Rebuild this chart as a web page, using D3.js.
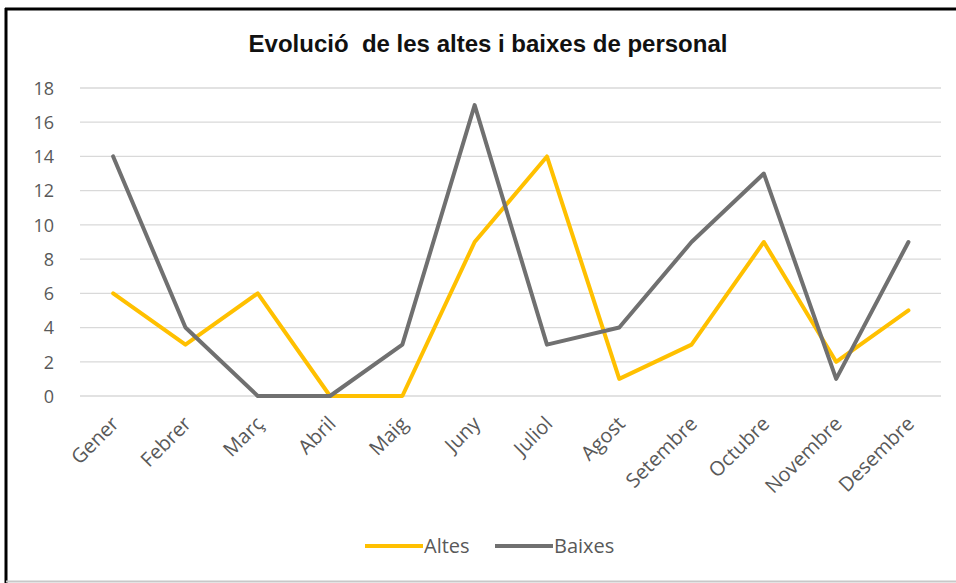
<!DOCTYPE html>
<html><head><meta charset="utf-8">
<script src="https://cdn.jsdelivr.net/npm/d3@7"></script>
<style>body{margin:0;background:#fff}svg{display:block}</style>
</head><body>
<script>
const months = ["Gener","Febrer","Març","Abril","Maig","Juny","Juliol","Agost","Setembre","Octubre","Novembre","Desembre"];
const altes  = [6,3,6,0,0,9,14,1,3,9,2,5];
const baixes = [14,4,0,0,3,17,3,4,9,13,1,9];
const yTicks = [0,2,4,6,8,10,12,14,16,18];
const seriesNames = ["Altes","Baixes"];
const seriesColors = ["#FFC000","#707070"];

const W=956,H=583;
const FONT="'Open Sans','Noto Sans',sans-serif";
const svg=d3.select("body").append("svg").attr("width",W).attr("height",H);
svg.append("rect").attr("width",W).attr("height",H).attr("fill","#fff");
// frame
svg.append("line").attr("x1",5).attr("x2",W).attr("y1",9).attr("y2",9).attr("stroke","#000").attr("stroke-width",3);
svg.append("line").attr("x1",6).attr("x2",6).attr("y1",8).attr("y2",H).attr("stroke","#000").attr("stroke-width",3);
svg.append("line").attr("x1",6).attr("x2",W).attr("y1",581.5).attr("y2",581.5).attr("stroke","#c8c8c8").attr("stroke-width",2);

const x=d3.scaleBand().domain(months).range([77,944.6]);
const y=d3.scaleLinear().domain([0,18]).range([396,88]);
const cx=m=>x(m)+x.bandwidth()/2;

// title
svg.append("text").attr("x",488).attr("y",52).attr("text-anchor","middle")
  .style("white-space","pre")
  .attr("font-family","'Liberation Sans Narrow','Arial Narrow','Liberation Sans',sans-serif")
  .attr("font-weight","bold").attr("font-size",24).attr("fill","#111")
  .text("Evolució  de les altes i baixes de personal");

// grid
svg.append("g").selectAll("line").data(yTicks).join("line")
  .attr("x1",80).attr("x2",941).attr("y1",d=>y(d)).attr("y2",d=>y(d))
  .attr("stroke","#d9d9d9").attr("stroke-width",1.3);

// y axis labels
const yAxis=d3.axisLeft(y).tickValues(yTicks).tickSize(0).tickPadding(0);
const gy=svg.append("g").attr("transform","translate(54,0)").call(yAxis);
gy.select(".domain").remove();
gy.selectAll("text").attr("font-family",FONT).attr("font-size",18).attr("fill","#595959").attr("dy","0.35em");

// x axis labels
const xAxis=d3.axisBottom(x).tickSize(0).tickPadding(0);
const gx=svg.append("g").attr("transform","translate(0,420)").call(xAxis);
gx.select(".domain").remove();
gx.selectAll("text").attr("font-family",FONT).attr("font-size",20).attr("fill","#595959")
  .attr("text-anchor","end").attr("y",0).attr("dy","0.35em").attr("transform","translate(2,0) rotate(-45)");

// lines
const line=d3.line().x((d,i)=>cx(months[i])).y(d=>y(d));
[altes,baixes].forEach((s,i)=>{
  svg.append("path").datum(s).attr("d",line).attr("fill","none")
    .attr("stroke",seriesColors[i]).attr("stroke-width",4).attr("stroke-linejoin","round").attr("stroke-linecap","round");
});

// legend
const legX=[365,495];
seriesNames.forEach((n,i)=>{
  const g=svg.append("g").attr("transform",`translate(${legX[i]},546)`);
  g.append("line").attr("x1",0).attr("x2",58).attr("stroke",seriesColors[i]).attr("stroke-width",4);
  g.append("text").attr("x",59).attr("y",0).attr("dy","0.35em").attr("font-family",FONT)
    .attr("font-size",20).attr("fill","#595959").text(n);
});
</script>
</body></html>
